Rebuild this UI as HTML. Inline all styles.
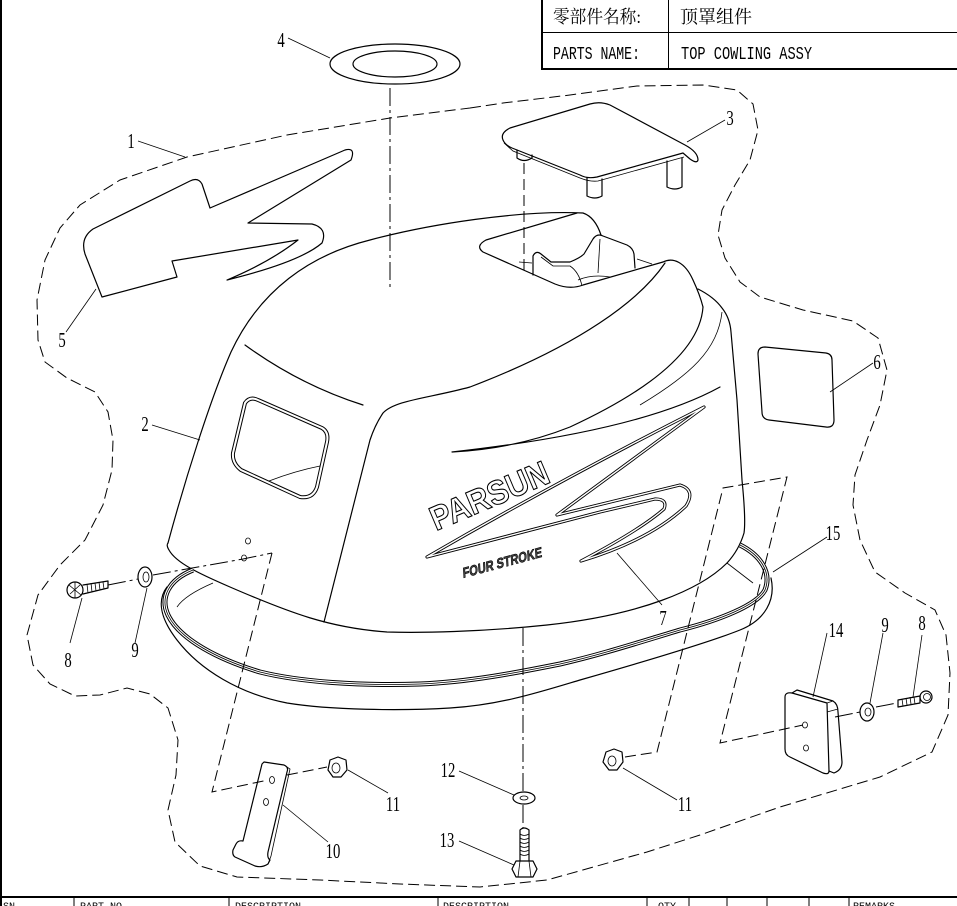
<!DOCTYPE html>
<html><head><meta charset="utf-8"><style>
html,body{margin:0;padding:0;background:#fff;}
svg{display:block;}
.l{fill:none;stroke:#000;stroke-width:1.2;stroke-linejoin:round;stroke-linecap:round;}
.t{fill:none;stroke:#000;stroke-width:0.8;}
.d{fill:none;stroke:#000;stroke-width:1;stroke-dasharray:11 5;}
.dd{fill:none;stroke:#000;stroke-width:1;stroke-dasharray:18 4 3 4;}
.n{font-family:"Liberation Serif",serif;font-size:21px;fill:#000;}
</style></head><body>
<svg width="957" height="906" viewBox="0 0 957 906" xmlns="http://www.w3.org/2000/svg">
<rect width="957" height="906" fill="#fff"/>
<rect x="0" y="0" width="2" height="906" fill="#000"/>

<!-- top table -->
<line x1="542" y1="0" x2="542" y2="70" stroke="#000" stroke-width="2"/>
<line x1="541" y1="69" x2="957" y2="69" stroke="#000" stroke-width="2"/>
<line x1="542" y1="32.5" x2="957" y2="32.5" stroke="#000" stroke-width="1"/>
<line x1="668.5" y1="0" x2="668.5" y2="69" stroke="#000" stroke-width="1"/>
<text x="553" y="23" font-family="'Liberation Serif','Noto Serif CJK SC',serif" font-size="18" textLength="88" lengthAdjust="spacingAndGlyphs">零部件名称:</text>
<text x="680" y="23" font-family="'Liberation Serif','Noto Serif CJK SC',serif" font-size="18" textLength="72" lengthAdjust="spacingAndGlyphs">顶罩组件</text>
<text x="553" y="59" font-family="'Liberation Mono',monospace" font-size="18" textLength="87" lengthAdjust="spacingAndGlyphs">PARTS NAME:</text>
<text x="681" y="59" font-family="'Liberation Mono',monospace" font-size="18" textLength="131" lengthAdjust="spacingAndGlyphs">TOP COWLING ASSY</text>

<!-- bottom table -->
<line x1="0" y1="897" x2="957" y2="897" stroke="#000" stroke-width="2"/>
<g stroke="#000" stroke-width="1">
<line x1="74" y1="897" x2="74" y2="906"/><line x1="229" y1="897" x2="229" y2="906"/>
<line x1="438" y1="897" x2="438" y2="906"/><line x1="647" y1="897" x2="647" y2="906"/>
<line x1="689" y1="897" x2="689" y2="906"/><line x1="727" y1="897" x2="727" y2="906"/>
<line x1="767" y1="897" x2="767" y2="906"/><line x1="809" y1="897" x2="809" y2="906"/>
<line x1="849" y1="897" x2="849" y2="906"/>
</g>
<g font-family="'Liberation Mono',monospace" font-size="10" fill="#000">
<text x="3" y="909">SN</text><text x="80" y="909">PART NO</text>
<text x="235" y="909">DESCRIPTION</text><text x="443" y="909">DESCRIPTION</text>
<text x="658" y="909">QTY</text><text x="853" y="909">REMARKS</text>
</g>

<!-- dashed assembly outline -->
<path class="d" d="M470,108 L503,103 L570,95 L637,86 L703,85 L737,90 L753,104 L758,130 L750,160 L735,185 L722,210 L718,235 L725,258 L740,282 L760,297 L803,310 L853,321 L878,338 L887,370 L880,405 L867,440 L855,475 L853,505 L860,540 L875,572 L905,593 L935,610 L946,635 L950,673 L948,715 L932,752 L880,777 L780,807 L700,835 L647,852 L547,880 L480,887 L400,884 L320,880 L237,877 L200,866 L175,842 L168,810 L176,775 L178,740 L168,708 L150,694 L127,688 L100,695 L75,696 L50,684 L33,665 L27,635 L38,595 L60,565 L85,540 L103,505 L112,470 L113,440 L108,412 L95,392 L67,378 L45,362 L38,340 L37,300 L45,260 L60,228 L80,205 L120,180 L187,157 L287,135 L390,118 Z"/>

<!-- item 4 ring -->
<ellipse class="l" cx="395" cy="64" rx="65" ry="20"/>
<ellipse class="l" cx="395" cy="64" rx="42" ry="13"/>
<line class="dd" x1="390" y1="88" x2="390" y2="290"/>

<!-- item 5 decal -->
<path class="l" d="M93,229 L190,181 Q198,177 202,184 L210,208 L345,150 Q356,147 351,160 L248,223 L312,224 Q328,228 322,243 Q300,262 227,280 Q270,262 298,240 L172,261 L177,277 L102,297 L85,254 Q80,238 93,229 Z"/>

<!-- item 3 cap -->
<path class="l" d="M503,140 Q500,133 510,128 L590,104 Q600,101 610,105 L685,145 Q698,152 698,160 Q697,164 690,159 L683,153 L597,177 Q587,179 580,175 L512,148 Q505,145 503,140 Z"/>
<path class="t" d="M504,143 L513,151 L580,178 Q590,182 598,181 L684,157"/>
<path class="l" d="M517,150 L517,158 Q524,163 532,158 L532,155"/>
<path class="l" d="M587,178 L587,196 Q595,200 602,196 L602,179"/>
<path class="l" d="M667,161 L667,187 Q675,191 682,187 L682,158"/>
<line class="d" x1="524" y1="163" x2="524" y2="273"/>

<!-- item 6 -->
<path class="l" d="M765,347 L826,353 Q832,354 832,360 L834,420 Q834,428 826,427 L769,420 Q762,419 762,412 L758,354 Q758,347 765,347 Z"/>

<!-- cowling main outline -->
<path class="l" d="M168,543 C185,480 210,400 231,352 C260,290 310,255 370,240 C430,224 520,210 583,213 Q595,217 601,235"/>
<path class="l" d="M577,213 L486,240 Q475,246 483,252 L555,284 Q570,290 583,285 L663,262"/>
<path class="l" d="M663,262 C673,257 685,262 693,280 Q700,295 703,307"/>
<path class="l" d="M698,289 Q714,297 722,308 Q730,318 731,332 L737,400 L742,480 Q746,520 744,533 Q739,550 727,563"/>
<path class="l" d="M727,563 C700,590 640,615 547,625 C480,632 420,633 387,632 C330,628 290,613 230,587 C200,574 176,563 169,550 Q166,545 168,543"/>
<path class="l" d="M533,275 L533,256 Q536,250 541,254 L551,262 L570,262 Q580,258 584,254 L593,239 Q597,233 603,236 L627,245 Q633,248 634,254 L635,268"/>
<path class="t" d="M541,257 L553,266 L570,266 Q579,272 582,286"/>
<path class="t" d="M600,239 L598,273"/>
<path class="t" d="M578,280 Q592,274 610,277"/>
<path class="t" d="M637,259 L652,264"/>
<path class="t" d="M519,262 L532,263"/>
<path class="l" d="M245,345 Q300,385 363,405"/>
<path class="l" d="M665,263 C640,300 580,345 470,387 C430,398 395,400 383,413 Q375,425 370,440 L324,622"/>
<path class="l" d="M703,307 C700,350 650,390 570,427 C530,443 490,450 452,452 C560,440 660,420 720,387"/>
<path class="t" d="M722,312 C718,350 690,375 640,405"/>
<!-- side window -->
<path d="M245,403 Q250,396 258,400 L322,428 Q329,432 327,442 L317,487 Q313,499 300,497 L241,470 Q232,463 233,453 Z" fill="none" stroke="#000" stroke-width="4"/>
<path d="M245,403 Q250,396 258,400 L322,428 Q329,432 327,442 L317,487 Q313,499 300,497 L241,470 Q232,463 233,453 Z" fill="none" stroke="#fff" stroke-width="2"/>
<path class="t" d="M269,481 Q295,471 320,466"/>
<ellipse class="t" cx="248" cy="541" rx="2.5" ry="3"/>
<ellipse class="t" cx="244" cy="558" rx="2.5" ry="3"/>

<!-- decal 7 Z -->
<path d="M427,557 Q560,480 704,407 L557,515 L680,485 Q696,490 686,506 Q650,540 581,561 Q640,530 664,509 Q668,499 655,499 L600,512 Z" fill="none" stroke="#000" stroke-width="3.2" stroke-linejoin="round"/>
<path d="M427,557 Q560,480 704,407 L557,515 L680,485 Q696,490 686,506 Q650,540 581,561 Q640,530 664,509 Q668,499 655,499 L600,512 Z" fill="none" stroke="#fff" stroke-width="1.4" stroke-linejoin="round"/>
<text transform="translate(436,531) rotate(-23)" font-family="'Liberation Sans',sans-serif" font-weight="bold" font-size="34" fill="#fff" stroke="#000" stroke-width="1.1" textLength="126" lengthAdjust="spacingAndGlyphs">PARSUN</text>
<text transform="translate(463,578) rotate(-15) skewX(-12)" font-family="'Liberation Sans',sans-serif" font-weight="bold" font-size="14" fill="#444" stroke="#000" stroke-width="0.6" textLength="82" lengthAdjust="spacingAndGlyphs">FOUR STROKE</text>

<!-- seal 15 triple + rim -->
<path d="M740,545 C760,555 772,572 765,590 C757,605 720,620 680,630 C640,642 600,655 560,664 C520,672 470,682 420,684 C360,686 300,682 260,672 C220,660 180,640 168,615 C160,598 168,580 193,570" fill="none" stroke="#000" stroke-width="5"/>
<path d="M740,545 C760,555 772,572 765,590 C757,605 720,620 680,630 C640,642 600,655 560,664 C520,672 470,682 420,684 C360,686 300,682 260,672 C220,660 180,640 168,615 C160,598 168,580 193,570" fill="none" stroke="#fff" stroke-width="3"/>
<path d="M740,545 C760,555 772,572 765,590 C757,605 720,620 680,630 C640,642 600,655 560,664 C520,672 470,682 420,684 C360,686 300,682 260,672 C220,660 180,640 168,615 C160,598 168,580 193,570" fill="none" stroke="#000" stroke-width="0.8"/>
<path class="l" d="M771,578 C776,600 765,620 740,630 C710,642 650,660 580,680 C540,692 500,705 450,708 C400,711 330,710 287,703 C240,694 200,670 177,640 C160,618 157,600 167,587"/>
<path class="t" d="M727,563 L753,583"/>
<path class="t" d="M177,607 Q185,595 213,583"/>

<!-- left fasteners -->
<circle class="l" cx="75" cy="590" r="8"/>
<path class="t" d="M69,585 L81,595 M70,594 L80,585 M75,582 L75,598"/>
<path class="l" d="M83,585 L108,581 L108,588 L83,594"/>
<path class="t" d="M87,584 L88,593 M91,583 L92,592 M95,583 L96,591 M99,582 L100,590 M103,582 L104,589"/>
<ellipse class="l" cx="145" cy="577" rx="7" ry="10"/>
<ellipse class="t" cx="146" cy="577" rx="3" ry="5"/>
<path class="dd" d="M108,585 L138,579 M153,575 L243,559 L272,553"/>
<path class="d" d="M272,553 L212,792 L268,780"/>
<!-- bracket 10 -->
<path class="l" d="M264,762 L284,765 Q289,767 287,772 L268,852 Q267,858 270,860 L268,864 Q262,868 255,866 L235,857 Q232,855 233,850 L236,844 Q238,840 243,841 L262,764 Z"/>
<path class="t" d="M284,765 L290,769 L271,856 L268,864"/>
<ellipse class="t" cx="272" cy="780" rx="2.5" ry="3.5"/>
<ellipse class="t" cx="266" cy="802" rx="2.5" ry="3.5"/>
<path class="d" d="M287,775 L327,767"/>
<polygon class="l" points="330,760 338,757 346,760 347,770 341,777 333,777 328,770"/>
<ellipse class="t" cx="336" cy="768" rx="4" ry="5"/>

<!-- center bottom fasteners -->
<line class="dd" x1="523" y1="628" x2="523" y2="792"/>
<line class="dd" x1="523" y1="805" x2="523" y2="828"/>
<ellipse class="l" cx="524" cy="798" rx="11" ry="6"/>
<ellipse class="t" cx="524" cy="798" rx="4" ry="2"/>
<path class="l" d="M520,830 L520,861 M529,830 L529,861 M520,830 Q524,826 529,830"/>
<path class="t" d="M520,834 Q524,837 529,834 M520,838 Q524,841 529,838 M520,842 Q524,845 529,842 M520,846 Q524,849 529,846 M520,850 Q524,853 529,850 M520,854 Q524,857 529,854"/>
<polygon class="l" points="516,861 533,861 537,869 533,877 516,877 512,869"/>
<path class="t" d="M520,861 L518,877 M529,861 L531,877"/>

<!-- nut 11 right -->
<polygon class="l" points="606,752 614,749 622,752 623,762 617,770 609,770 603,762"/>
<ellipse class="t" cx="612" cy="761" rx="4" ry="5"/>
<path class="d" d="M625,757 L657,752 L723,488 L787,477 L720,743 L803,725"/>

<!-- item 14 block -->
<path class="l" d="M785,697 Q785,692 792,693 L827,703 L829,771 Q829,775 823,773 L790,757 Q785,755 785,749 Z"/>
<path class="l" d="M792,693 L797,690 L833,701 Q838,704 838,712 L842,762 Q842,770 834,773 L829,771"/>
<path class="t" d="M827,703 L833,701 M827,712 L838,709"/>
<ellipse class="t" cx="805" cy="725" rx="2.5" ry="3"/>
<ellipse class="t" cx="806" cy="748" rx="2.5" ry="3"/>
<path class="dd" d="M835,717 L860,712 M876,707 L897,703"/>
<ellipse class="l" cx="867" cy="712" rx="7" ry="9"/>
<ellipse class="t" cx="868" cy="712" rx="3" ry="4"/>
<path class="l" d="M898,700 L920,696 L920,703 L898,707 Z"/>
<path class="t" d="M902,699 L903,706 M906,698 L907,705 M910,697 L911,704 M914,697 L915,704"/>
<circle class="l" cx="926" cy="697" r="6"/>
<circle class="t" cx="927" cy="697" r="3.5"/>

<!-- leader lines -->
<g class="t">
<line x1="138" y1="141" x2="185" y2="157"/>
<line x1="152" y1="425" x2="200" y2="440"/>
<line x1="725" y1="120" x2="687" y2="142"/>
<line x1="288" y1="38" x2="330" y2="58"/>
<line x1="66" y1="332" x2="96" y2="289"/>
<line x1="873" y1="363" x2="830" y2="392"/>
<line x1="617" y1="553" x2="662" y2="605"/>
<line x1="70" y1="643" x2="82" y2="598"/>
<line x1="135" y1="643" x2="147" y2="588"/>
<line x1="283" y1="805" x2="328" y2="842"/>
<line x1="348" y1="770" x2="388" y2="793"/>
<line x1="459" y1="771" x2="514" y2="795"/>
<line x1="459" y1="841" x2="514" y2="865"/>
<line x1="623" y1="768" x2="677" y2="800"/>
<line x1="827" y1="633" x2="813" y2="697"/>
<line x1="883" y1="633" x2="870" y2="703"/>
<line x1="922" y1="635" x2="913" y2="697"/>
<line x1="827" y1="537" x2="773" y2="572"/>
</g>

<!-- labels -->
<g class="n" text-anchor="middle">
<text transform="translate(131,148) scale(0.7,1)">1</text>
<text transform="translate(145,431) scale(0.7,1)">2</text>
<text transform="translate(730,125) scale(0.7,1)">3</text>
<text transform="translate(281,47) scale(0.7,1)">4</text>
<text transform="translate(62,347) scale(0.7,1)">5</text>
<text transform="translate(877,369) scale(0.7,1)">6</text>
<text transform="translate(663,625) scale(0.7,1)">7</text>
<text transform="translate(68,667) scale(0.7,1)">8</text>
<text transform="translate(135,657) scale(0.7,1)">9</text>
<text transform="translate(333,858) scale(0.7,1)">10</text>
<text transform="translate(393,811) scale(0.7,1)">11</text>
<text transform="translate(448,777) scale(0.7,1)">12</text>
<text transform="translate(447,847) scale(0.7,1)">13</text>
<text transform="translate(685,811) scale(0.7,1)">11</text>
<text transform="translate(836,637) scale(0.7,1)">14</text>
<text transform="translate(885,632) scale(0.7,1)">9</text>
<text transform="translate(922,630) scale(0.7,1)">8</text>
<text transform="translate(833,540) scale(0.7,1)">15</text>
</g>
</svg>
</body></html>
